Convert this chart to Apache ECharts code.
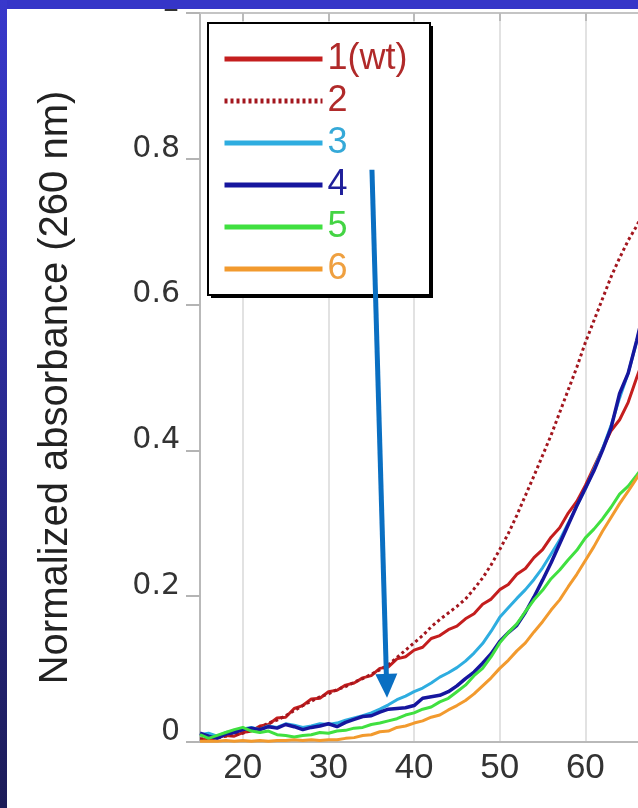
<!DOCTYPE html>
<html>
<head>
<meta charset="utf-8">
<script src="https://cdn.jsdelivr.net/npm/echarts@6/dist/echarts.min.js"></script>
<style>
html,body{margin:0;padding:0;background:#fff;}
#chart{width:638px;height:808px;}
</style>
</head>
<body>
<div id="chart"></div>
<script>
// x values (axis 15..70, visible to ~66)
const xs = [15,16,17,18,19,20,21,22,23,24,25,26,27,28,29,30,31,32,33,34,35,36,37,38,39,40,41,42,43,44,45,46,47,48,49,50,51,52,53,54,55,56,57,58,59,60,61,62,63,64,65,66,67,68];
const xTicks = [10,20,30,40,50,60,70];
const yTicks = [0,0.2,0.4,0.6,0.8,1];
const seriesNames = ['1(wt)','2','3','4','5','6'];

const s1 = [.004,.003,.006,.009,.008,.013,.015,.022,.024,.033,.034,.046,.050,.059,.060,.069,.071,.078,.081,.088,.091,.101,.103,.114,.117,.126,.130,.142,.146,.154,.159,.169,.176,.189,.196,.209,.216,.230,.238,.253,.264,.281,.294,.314,.330,.352,.377,.402,.427,.442,.466,.500,.532,.566];
const s2 = [.004,.005,.006,.008,.010,.012,.016,.020,.026,.030,.036,.043,.050,.056,.062,.066,.072,.076,.082,.087,.093,.099,.106,.116,.126,.136,.146,.158,.168,.177,.186,.196,.210,.225,.243,.264,.286,.311,.338,.365,.393,.421,.452,.483,.514,.548,.578,.608,.638,.664,.688,.708,.732,.756];
const s3 = [.010,.012,.008,.013,.015,.018,.020,.017,.022,.020,.025,.023,.020,.022,.025,.024,.026,.030,.033,.036,.040,.045,.051,.058,.063,.069,.074,.081,.089,.095,.102,.111,.122,.135,.152,.171,.184,.197,.209,.223,.239,.258,.277,.300,.324,.347,.374,.402,.434,.472,.506,.550,.597,.642];
const s4 = [.012,.008,.005,.011,.013,.017,.019,.017,.021,.019,.024,.021,.017,.020,.022,.025,.021,.027,.031,.035,.036,.041,.045,.046,.047,.050,.060,.062,.064,.069,.077,.087,.096,.108,.121,.138,.150,.160,.178,.199,.222,.246,.272,.298,.324,.348,.372,.400,.431,.478,.506,.551,.600,.650];
const s5 = [.010,.005,.009,.013,.017,.020,.015,.013,.015,.010,.009,.007,.009,.010,.013,.012,.015,.016,.019,.020,.024,.026,.029,.032,.037,.040,.045,.048,.055,.060,.069,.078,.091,.101,.117,.136,.150,.162,.179,.195,.208,.224,.236,.250,.263,.280,.292,.306,.322,.340,.351,.366,.382,.400];
const s6 = [.001,.001,.001,.002,.001,.002,.001,.002,.001,.002,.002,.003,.002,.003,.002,.003,.003,.005,.006,.009,.010,.014,.015,.020,.022,.026,.029,.034,.037,.044,.050,.057,.066,.077,.088,.101,.112,.125,.136,.151,.165,.181,.195,.213,.230,.249,.268,.289,.308,.327,.344,.362,.380,.398];

// arrow annotation (data coordinates)
const arrowStart = [35.08, 0.785];
const arrowEnd = [36.80, 0.077];

const colors = ['#c41e1e','#a3161e','#2eade0','#16169e','#40e040','#f29a2e'];
const textColors = ['#b02a2a','#b02a2a','#35a9d8','#1f1f9a','#44d444','#efa040'];
const allData = [s1,s2,s3,s4,s5,s6];

const chart = echarts.init(document.getElementById('chart'), null, {renderer:'canvas'});

const series = allData.map((vals, i) => ({
  name: seriesNames[i],
  type: 'line',
  xAxisIndex: 0,
  yAxisIndex: 0,
  data: xs.map((x, j) => [x, vals[j]]),
  showSymbol: false,
  symbol: 'none',
  z: 4,
  lineStyle: {color: colors[i], width: i === 3 ? 3.5 : 3, type: i === 1 ? [3, 3] : 'solid'},
  itemStyle: {color: colors[i]},
  emphasis: {disabled: true},
  animation: false
}));
series[3].markLine = {
  silent: true,
  symbol: ['none', 'triangle'],
  symbolSize: [22, 24],
  label: {show: false},
  lineStyle: {color: '#0a6fc2', width: 5, type: 'solid'},
  data: [[{coord: arrowStart}, {coord: arrowEnd}]],
  animation: false
};

const pxPerUnit = 471 / 55;
const axisGray = '#b9b9b9';
chart.setOption({
  animation: false,
  backgroundColor: '#ffffff',
  grid: [
    {left: 200, top: 13, right: -33, bottom: 66, outerBoundsMode: 'none', containLabel: false},
    {left: 200 - 5 * pxPerUnit, top: 13, right: -33, bottom: 66, outerBoundsMode: 'none', containLabel: false}
  ],
  xAxis: [
    {gridIndex: 0, type: 'value', min: 15, max: 70,
      axisLine: {show: true, onZero: false, lineStyle: {color: axisGray, width: 2}},
      axisTick: {show: false}, axisLabel: {show: false}, splitLine: {show: false}},
    {gridIndex: 1, type: 'value', min: xTicks[0], max: xTicks[xTicks.length - 1], interval: 10,
      axisLine: {show: false}, axisTick: {show: false},
      axisLabel: {fontSize: 35, fontFamily: 'Liberation Sans', color: '#333', margin: 9,
        formatter: v => (v === 10 ? '' : String(v))},
      splitLine: {show: true, showMinLine: false, lineStyle: {color: '#e2e2e2', width: 2}}},
    {gridIndex: 0, type: 'value', position: 'top', min: 15, max: 70,
      axisLine: {show: true, onZero: false, lineStyle: {color: '#c4c4c4', width: 2}},
      axisLabel: {show: false}, splitLine: {show: false},
      axisTick: {show: true, inside: true, length: 8, customValues: [20,30,40,50,60,70], lineStyle: {color: '#bbbbbb', width: 2}}}
  ],
  yAxis: [
    {gridIndex: 0, type: 'value', min: yTicks[0], max: yTicks[yTicks.length - 1], interval: 0.2,
      name: 'Normalized absorbance (260 nm)', nameLocation: 'middle', nameGap: 124,
      nameTextStyle: {fontSize: 40, fontFamily: 'Liberation Sans', color: '#222', padding: [0, 20, 0, 0]},
      axisLine: {show: true, onZero: false, lineStyle: {color: axisGray, width: 2}},
      axisTick: {show: true, inside: false, length: 14, lineStyle: {color: '#b4b4b4', width: 2}},
      axisLabel: {fontSize: 30, fontFamily: 'DejaVu Sans', color: '#333', margin: 20, verticalAlign: 'bottom', lineHeight: 20,
        formatter: v => (v === 0 ? '0' : (v === 1 ? '1' : v.toFixed(1)))},
      splitLine: {show: false}},
    {gridIndex: 1, type: 'value', min: 0, max: 1, show: false}
  ],
  legend: {
    orient: 'vertical', left: 207, top: 22, z: 3,
    backgroundColor: 'transparent', borderWidth: 0,
    padding: [19, 26, 13, 15],
    itemWidth: 98, itemHeight: 2, itemGap: 6,
    lineStyle: {width: 5},
    itemStyle: {opacity: 0},
    textStyle: {fontSize: 36, fontFamily: 'Liberation Sans', lineHeight: 35},
    selectedMode: false,
    data: seriesNames.map((n, i) => ({name: n, textStyle: {color: textColors[i]}}))
  },
  graphic: [
    {type: 'rect', left: 211, top: 26, z: 2, shape: {width: 222, height: 272}, style: {fill: '#000'}},
    {type: 'rect', left: 207, top: 22, z: 2, shape: {width: 222, height: 272}, style: {fill: '#fff', stroke: '#000', lineWidth: 2}},
    {type: 'rect', left: 0, top: 0, z: 100, shape: {width: 638, height: 9}, style: {fill: '#3535c8'}},
    {type: 'rect', left: 0, top: 0, z: 100, shape: {width: 7, height: 808},
      style: {fill: new echarts.graphic.LinearGradient(0, 0, 0, 1, [{offset: 0, color: '#3838cc'}, {offset: 1, color: '#1c1c58'}])}}
  ],
  series: series
});
</script>
</body>
</html>
